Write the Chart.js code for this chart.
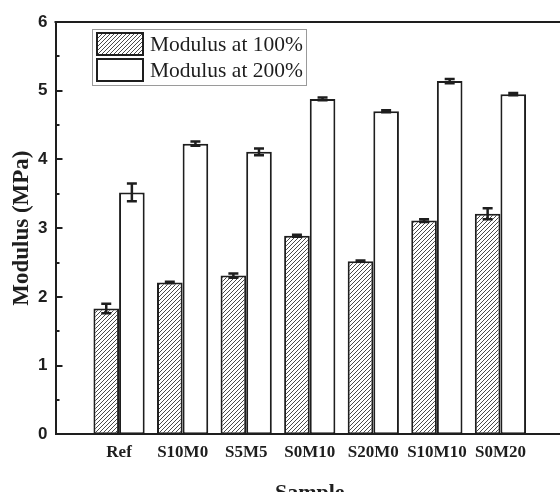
<!DOCTYPE html>
<html>
<head>
<meta charset="utf-8">
<title>Modulus</title>
<script src="https://cdn.jsdelivr.net/npm/chart.js@4.4.1/dist/chart.umd.min.js"></script>
<style>
    html, body { margin: 0; padding: 0; overflow: hidden; background: #fff; }
    canvas { display: block; }
</style>
</head>
<body>
<canvas id="chartModulus" width="572" height="507"></canvas>
<script>
// sample names, placed at x = 1..7 on the axis
var samples = ['Ref', 'S10M0', 'S5M5', 'S0M10', 'S20M0', 'S10M10', 'S0M20'];
var modulus100 = [1.83, 2.21, 2.31, 2.89, 2.52, 3.11, 3.21];
var err100 = [0.07, 0.01, 0.03, 0.015, 0.01, 0.02, 0.08];
var modulus200 = [3.52, 4.23, 4.11, 4.88, 4.70, 5.14, 4.95];
var err200 = [0.13, 0.03, 0.05, 0.02, 0.015, 0.03, 0.015];
var yTicks = [0, 1, 2, 3, 4, 5, 6];

var INK = '#1e1e1e';

// empty slot at both ends so the axis runs from 0 to 8
function pad(arr) {
    return [null].concat(arr, [null]);
}

function makeHatch() {
    var c = document.createElement('canvas');
    c.width = 4;
    c.height = 4;
    var g = c.getContext('2d');
    g.fillStyle = '#fff';
    g.fillRect(0, 0, 4, 4);
    g.strokeStyle = '#4a4a4a';
    g.lineWidth = 1;
    g.beginPath();
    g.moveTo(-1, 5); g.lineTo(5, -1);
    g.moveTo(-1, 1); g.lineTo(1, -1);
    g.moveTo(3, 5); g.lineTo(5, 3);
    g.stroke();
    return g.createPattern(c, 'repeat');
}

var ctx = document.getElementById('chartModulus').getContext('2d');
var hatch = makeHatch();

// error bars on top of every bar
var errorBars = {
    id: 'errorBars',
    afterDatasetsDraw: function (chart) {
        var y = chart.scales.y;
        var g = chart.ctx;
        g.save();
        g.strokeStyle = INK;
        g.lineWidth = 2.5;
        chart.data.datasets.forEach(function (ds, i) {
            var meta = chart.getDatasetMeta(i);
            ds.errors.forEach(function (e, j) {
                var bar = meta.data[j + 1];
                var v = ds.data[j + 1];
                var top = y.getPixelForValue(v + e);
                var bot = y.getPixelForValue(v - e);
                g.beginPath();
                g.moveTo(bar.x, top); g.lineTo(bar.x, bot);
                g.moveTo(bar.x - 5, top); g.lineTo(bar.x + 5, top);
                g.moveTo(bar.x - 5, bot); g.lineTo(bar.x + 5, bot);
                g.stroke();
            });
        });
        g.restore();
    }
};

// top frame line, inward ticks on the left axis, and the boxed legend
var frame = {
    id: 'frame',
    afterDraw: function (chart) {
        var a = chart.chartArea;
        var y = chart.scales.y;
        var g = chart.ctx;
        g.save();
        g.strokeStyle = INK;
        g.lineWidth = 2;
        g.beginPath();
        g.moveTo(a.left - 1, a.top);
        g.lineTo(a.right, a.top);
        g.stroke();

        for (var v = 0; v <= 6; v += 0.5) {
            var py = Math.round(y.getPixelForValue(v));
            var len = (v % 1 === 0) ? 7 : 4;
            g.beginPath();
            g.moveTo(a.left, py);
            g.lineTo(a.left + len, py);
            g.stroke();
        }

        // legend
        g.lineWidth = 1;
        g.strokeStyle = '#9a9a9a';
        g.strokeRect(92.5, 29.5, 214, 56);
        var rows = [32, 58];
        chart.data.datasets.forEach(function (ds, i) {
            g.fillStyle = ds.backgroundColor;
            g.fillRect(96, rows[i], 48, 24);
            g.lineWidth = 2;
            g.strokeStyle = INK;
            g.strokeRect(97, rows[i] + 1, 46, 22);
            g.fillStyle = INK;
            g.font = '21.5px "Liberation Serif", "Times New Roman", serif';
            g.textAlign = 'left';
            g.textBaseline = 'alphabetic';
            g.fillText(ds.label, 150, rows[i] + 19);
        });
        g.restore();
    }
};

new Chart(ctx, {
    type: 'bar',
    data: {
        labels: pad(samples).map(function (s) { return s || ''; }),
        datasets: [
            {
                label: 'Modulus at 100%',
                data: pad(modulus100),
                errors: err100,
                backgroundColor: hatch,
                borderColor: INK,
                borderWidth: 2,
                borderSkipped: false,
            },
            {
                label: 'Modulus at 200%',
                data: pad(modulus200),
                errors: err200,
                backgroundColor: '#ffffff',
                borderColor: INK,
                borderWidth: 2,
                borderSkipped: false,
            },
        ],
    },
    options: {
        responsive: false,
        animation: false,
        devicePixelRatio: 1,
        layout: { padding: { top: 22, left: 0, right: 0, bottom: 0 } },
        datasets: { bar: { categoryPercentage: 0.806, barPercentage: 1 } },
        plugins: {
            legend: { display: false },
            tooltip: { enabled: false },
        },
        scales: {
            x: {
                offset: false,
                grid: { display: false, drawTicks: false },
                border: { display: true, color: INK, width: 2 },
                ticks: {
                    autoSkip: false,
                    maxRotation: 0,
                    padding: 8,
                    color: INK,
                    font: { family: '"Liberation Serif", "Times New Roman", serif', size: 17, weight: 'bold' },
                },
                title: {
                    display: true,
                    text: 'Sample',
                    color: INK,
                    padding: { top: 0, bottom: 0 },
                    font: { family: '"Liberation Serif", "Times New Roman", serif', size: 22, weight: 'bold' },
                },
                afterFit: function (scale) { scale.height = 72.7; },
            },
            y: {
                min: 0,
                max: 6,
                afterBuildTicks: function (scale) {
                    scale.ticks = yTicks.map(function (v) { return { value: v }; });
                },
                grid: { display: false, drawTicks: false },
                border: { display: true, color: INK, width: 2 },
                ticks: {
                    padding: 8,
                    color: INK,
                    font: { family: '"Liberation Sans", Arial, sans-serif', size: 17, weight: 'bold' },
                },
                title: {
                    display: true,
                    text: 'Modulus (MPa)',
                    color: INK,
                    padding: { top: 8, bottom: 0 },
                    font: { family: '"Liberation Serif", "Times New Roman", serif', size: 23, weight: 'bold' },
                },
                afterFit: function (scale) { scale.width = 55.5; },
            },
        },
    },
    plugins: [errorBars, frame],
});
</script>
</body>
</html>
